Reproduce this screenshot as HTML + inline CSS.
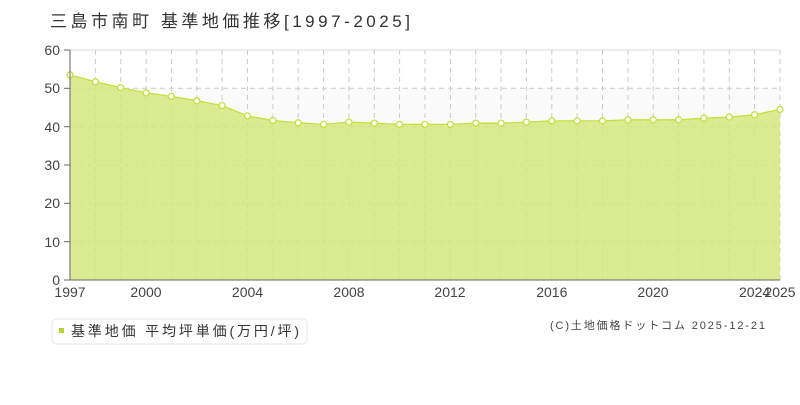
<!DOCTYPE html>
<html><head><meta charset="utf-8"><style>
body{margin:0;background:#fff;width:800px;height:400px;overflow:hidden;font-family:"Liberation Sans","Noto Sans CJK JP",sans-serif}
</style></head><body>
<svg width="800" height="400" xmlns="http://www.w3.org/2000/svg" font-family="Liberation Sans, Noto Sans CJK JP, sans-serif">
<text x="50" y="27" font-size="17" fill="#333" textLength="360" lengthAdjust="spacing">三島市南町 基準地価推移[1997-2025]</text>
<rect x="70" y="88" width="710" height="38" fill="#fafafa"/>
<g stroke="#ccc" stroke-dasharray="5,4" stroke-width="1">
<line x1="70" y1="50" x2="780" y2="50" stroke="#ddd" stroke-dasharray="none"/>
<line x1="70" y1="88.3" x2="780" y2="88.3"/><line x1="70" y1="126.7" x2="780" y2="126.7"/><line x1="70" y1="165" x2="780" y2="165"/><line x1="70" y1="203.3" x2="780" y2="203.3"/><line x1="70" y1="241.7" x2="780" y2="241.7"/>
<line x1="95.4" y1="50" x2="95.4" y2="280"/><line x1="120.7" y1="50" x2="120.7" y2="280"/><line x1="146.1" y1="50" x2="146.1" y2="280"/><line x1="171.4" y1="50" x2="171.4" y2="280"/><line x1="196.8" y1="50" x2="196.8" y2="280"/><line x1="222.1" y1="50" x2="222.1" y2="280"/><line x1="247.5" y1="50" x2="247.5" y2="280"/><line x1="272.9" y1="50" x2="272.9" y2="280"/><line x1="298.2" y1="50" x2="298.2" y2="280"/><line x1="323.6" y1="50" x2="323.6" y2="280"/><line x1="348.9" y1="50" x2="348.9" y2="280"/><line x1="374.3" y1="50" x2="374.3" y2="280"/><line x1="399.6" y1="50" x2="399.6" y2="280"/><line x1="425" y1="50" x2="425" y2="280"/><line x1="450.4" y1="50" x2="450.4" y2="280"/><line x1="475.7" y1="50" x2="475.7" y2="280"/><line x1="501.1" y1="50" x2="501.1" y2="280"/><line x1="526.4" y1="50" x2="526.4" y2="280"/><line x1="551.8" y1="50" x2="551.8" y2="280"/><line x1="577.1" y1="50" x2="577.1" y2="280"/><line x1="602.5" y1="50" x2="602.5" y2="280"/><line x1="627.9" y1="50" x2="627.9" y2="280"/><line x1="653.2" y1="50" x2="653.2" y2="280"/><line x1="678.6" y1="50" x2="678.6" y2="280"/><line x1="703.9" y1="50" x2="703.9" y2="280"/><line x1="729.3" y1="50" x2="729.3" y2="280"/><line x1="754.6" y1="50" x2="754.6" y2="280"/><line x1="780" y1="50" x2="780" y2="280"/>
</g>
<polygon fill="#d4e87f" fill-opacity="0.85" points="70,280 70,74.9 95.4,81.8 120.7,87.6 146.1,92.9 171.4,96.4 196.8,100.6 222.1,105.6 247.5,115.9 272.9,120.5 298.2,122.8 323.6,124.4 348.9,122.1 374.3,123.2 399.6,124.4 425,124.4 450.4,124.4 475.7,123.2 501.1,123.2 526.4,122.1 551.8,120.9 577.1,120.9 602.5,120.9 627.9,119.8 653.2,119.8 678.6,119.8 703.9,118.2 729.3,117.1 754.6,114.8 780,109.4 780,280"/>
<g stroke="#c5e03d" stroke-width="1.3" fill="#fff">
<polyline fill="none" points="70,74.9 95.4,81.8 120.7,87.6 146.1,92.9 171.4,96.4 196.8,100.6 222.1,105.6 247.5,115.9 272.9,120.5 298.2,122.8 323.6,124.4 348.9,122.1 374.3,123.2 399.6,124.4 425,124.4 450.4,124.4 475.7,123.2 501.1,123.2 526.4,122.1 551.8,120.9 577.1,120.9 602.5,120.9 627.9,119.8 653.2,119.8 678.6,119.8 703.9,118.2 729.3,117.1 754.6,114.8 780,109.4"/>
<circle cx="70" cy="74.9" r="3"/><circle cx="95.4" cy="81.8" r="3"/><circle cx="120.7" cy="87.6" r="3"/><circle cx="146.1" cy="92.9" r="3"/><circle cx="171.4" cy="96.4" r="3"/><circle cx="196.8" cy="100.6" r="3"/><circle cx="222.1" cy="105.6" r="3"/><circle cx="247.5" cy="115.9" r="3"/><circle cx="272.9" cy="120.5" r="3"/><circle cx="298.2" cy="122.8" r="3"/><circle cx="323.6" cy="124.4" r="3"/><circle cx="348.9" cy="122.1" r="3"/><circle cx="374.3" cy="123.2" r="3"/><circle cx="399.6" cy="124.4" r="3"/><circle cx="425" cy="124.4" r="3"/><circle cx="450.4" cy="124.4" r="3"/><circle cx="475.7" cy="123.2" r="3"/><circle cx="501.1" cy="123.2" r="3"/><circle cx="526.4" cy="122.1" r="3"/><circle cx="551.8" cy="120.9" r="3"/><circle cx="577.1" cy="120.9" r="3"/><circle cx="602.5" cy="120.9" r="3"/><circle cx="627.9" cy="119.8" r="3"/><circle cx="653.2" cy="119.8" r="3"/><circle cx="678.6" cy="119.8" r="3"/><circle cx="703.9" cy="118.2" r="3"/><circle cx="729.3" cy="117.1" r="3"/><circle cx="754.6" cy="114.8" r="3"/><circle cx="780" cy="109.4" r="3"/>
</g>
<line x1="70" y1="50" x2="70" y2="280" stroke="#666"/>
<line x1="70" y1="280" x2="780" y2="280" stroke="#666"/>
<g stroke="#666"><line x1="64" y1="50" x2="70" y2="50"/><line x1="64" y1="88.3" x2="70" y2="88.3"/><line x1="64" y1="126.7" x2="70" y2="126.7"/><line x1="64" y1="165" x2="70" y2="165"/><line x1="64" y1="203.3" x2="70" y2="203.3"/><line x1="64" y1="241.7" x2="70" y2="241.7"/><line x1="64" y1="280" x2="70" y2="280"/></g>
<g font-size="14" fill="#444" text-anchor="end">
<text x="60" y="55">60</text><text x="60" y="93">50</text><text x="60" y="132">40</text><text x="60" y="170">30</text><text x="60" y="208">20</text><text x="60" y="247">10</text><text x="60" y="285">0</text>
</g>
<g font-size="14" fill="#444" text-anchor="middle">
<text x="70" y="297">1997</text><text x="146" y="297">2000</text><text x="247.5" y="297">2004</text><text x="349" y="297">2008</text><text x="450" y="297">2012</text><text x="551.8" y="297">2016</text><text x="653" y="297">2020</text><text x="754.6" y="297">2024</text><text x="780" y="297">2025</text>
</g>
<rect x="52" y="319" width="255" height="25" rx="4" fill="#fff" stroke="#e6e6e6"/>
<rect x="59" y="328" width="5" height="5" fill="#b5d334"/>
<text x="71" y="336" font-size="14" fill="#333" textLength="228" lengthAdjust="spacing">基準地価 平均坪単価(万円/坪)</text>
<text x="550" y="329" font-size="11" fill="#444" textLength="215" lengthAdjust="spacing">(C)土地価格ドットコム 2025-12-21</text>
</svg>
</body></html>
